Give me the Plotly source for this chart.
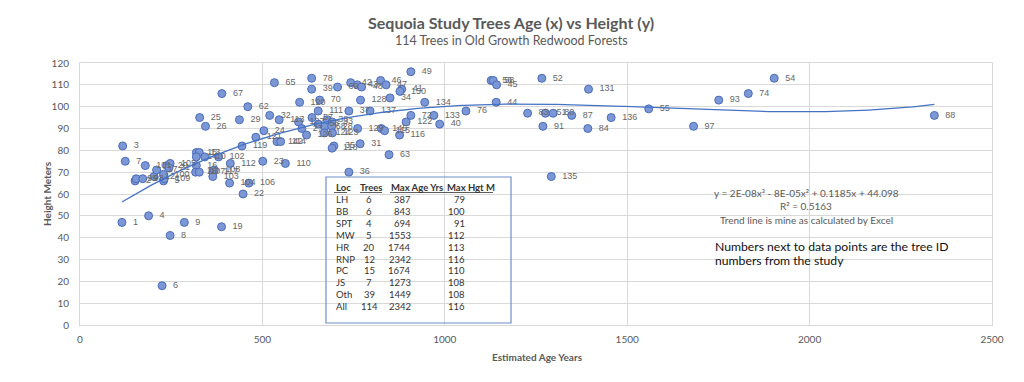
import numpy as np
import plotly.graph_objects as go

# ---------------- data ----------------
ages = [115, 188, 286, 247, 225, 117, 124, 388, 447, 410, 463,
        151, 154, 172, 203, 229, 231, 229, 179, 210, 238, 247, 244,
        319, 327, 319, 342, 380, 412, 319, 317, 327, 364, 368, 364,
        444, 482, 504, 540, 550, 501, 563, 389, 460, 328, 344, 437, 520, 546, 533,
        635, 635, 706, 742, 760, 772, 824, 839, 882, 877, 907, 850, 769, 657, 602,
        737, 795, 653, 599, 608, 621, 636, 653, 671, 678, 691, 690, 670, 692,
        761, 826, 835, 876, 894, 907, 970, 986, 945, 1058, 696, 691, 768, 847, 737,
        1127, 1133, 1142, 1266, 1394, 1141, 1227, 1276, 1297, 1348, 1269, 1392,
        1456, 1559, 1292, 1682, 1751, 1832, 1903, 2342]
heights = [47, 50, 47, 41, 18, 82, 75, 45, 60, 65, 65,
           66, 67, 67, 68, 66, 67, 69, 73, 71, 73, 74, 72,
           79, 79, 77, 77, 77, 74, 73, 70, 70, 70, 71, 68,
           82, 86, 89, 84, 84, 75, 74, 106, 100, 95, 91, 94, 96, 94, 111,
           113, 108, 109, 111, 110, 109, 112, 110, 108, 107, 116, 104, 103, 103, 102,
           98, 98, 98, 93, 90, 87, 95, 92, 91, 94, 93, 91, 88, 88,
           90, 90, 89, 87, 93, 96, 96, 92, 102, 98, 82, 81, 83, 78, 70,
           112, 112, 110, 113, 108, 102, 97, 97, 97, 96, 91, 90,
           95, 99, 68, 91, 103, 106, 113, 96]
tree_ids = ["1", "4", "9", "8", "6", "3", "7", "19", "22", "104", "106",
            "2", "99", "98", "12", "5", "109", "100", "101", "17", "20", "105", "21",
            "15", "13", "14", "10", "102", "112", "16", "18", "107", "117", "108", "103",
            "119", "121", "24", "142", "114", "23", "110", "67", "62", "25", "26", "29", "32", "113", "65",
            "78", "39", "69", "42", "43", "48", "46", "47", "41", "150", "49", "34", "128", "70", "120",
            "37", "137", "111", "127", "27", "126", "57", "53", "68", "38", "33", "28", "124", "123",
            "129", "145", "115", "116", "122", "72", "133", "40", "134", "76", "35", "118", "31", "63", "36",
            "56", "58", "45", "52", "131", "44", "83", "51", "80", "87", "91", "84",
            "136", "55", "135", "97", "93", "74", "54", "88"]

x_ticks = [0, 500, 1000, 1500, 2000, 2500]
y_ticks = [0, 10, 20, 30, 40, 50, 60, 70, 80, 90, 100, 110, 120]

table_loc = ["LH", "BB", "SPT", "MW", "HR", "RNP", "PC", "JS", "Oth", "All"]
table_trees = [6, 6, 4, 5, 20, 12, 15, 7, 39, 114]
table_max_age = [387, 843, 694, 1553, 1744, 2342, 1674, 1273, 1449, 2342]
table_max_hgt = [79, 100, 91, 112, 113, 116, 110, 108, 108, 116]
table_headers = ["Loc", "Trees", "Max Age Yrs", "Max Hgt M"]

title = "Sequoia Study Trees Age (x) vs Height (y)"
subtitle = "114 Trees in Old Growth Redwood Forests"
eq_lines = ["y = 2E-08x³ - 8E-05x² + 0.1185x + 44.098", "R² = 0.5163",
            "Trend line is mine as calculated by Excel"]
note_lines = ["Numbers next to data points are the tree ID", "numbers from the study"]

# ---------------- layout helpers ----------------
W, H = 1024, 382
L, R, T, B = 80, 32, 63, 57
PW, PH = W - L - R, H - T - B


def px(x):
    return (x - L) / PW


def py(y):
    return (H - B - y) / PH


GRID = "#D9D9D9"
GRAY = "#595959"
CAL = "Lato, Open Sans, sans-serif"

# trend line: cubic least-squares fit of the data (as Excel does)
coef = np.polyfit(ages, heights, 3)
xs = np.linspace(min(ages), max(ages), 300)
ys = np.polyval(coef, xs)

fig = go.Figure()
fig.add_trace(go.Scatter(
    x=ages, y=heights, mode="markers+text", text=tree_ids,
    texttemplate="  %{text}",
    textposition="middle right",
    textfont=dict(family="Liberation Sans, Arial, sans-serif", size=9, color="#666666"),
    marker=dict(size=8, color="#7C97D6", line=dict(color="#4A6DB9", width=1)),
    hoverinfo="x+y+text", showlegend=False, cliponaxis=False))
fig.add_trace(go.Scatter(
    x=xs, y=ys, mode="lines", line=dict(color="#4472C4", width=1.3),
    hoverinfo="skip", showlegend=False))

ann = []
ann.append(dict(text="<b>" + title + "</b>", x=px(511), y=py(22), xref="paper", yref="paper",
                showarrow=False, font=dict(family=CAL, size=16, color=GRAY), xanchor="center", yanchor="middle"))
ann.append(dict(text=subtitle, x=px(511), y=py(40), xref="paper", yref="paper",
                showarrow=False, font=dict(family=CAL, size=12.5, color=GRAY), xanchor="center", yanchor="middle"))
ann.append(dict(text="<b>Height Meters</b>", x=px(47), y=py(194), xref="paper", yref="paper", textangle=-90,
                showarrow=False, font=dict(family=CAL, size=10, color=GRAY), xanchor="center", yanchor="middle"))
ann.append(dict(text="<b>Estimated Age Years</b>", x=px(537), y=py(357), xref="paper", yref="paper",
                showarrow=False, font=dict(family=CAL, size=10, color=GRAY), xanchor="center", yanchor="middle"))
for i, line in enumerate(eq_lines):
    ann.append(dict(text=line, x=px(806), y=py(193 + 13.5 * i), xref="paper", yref="paper",
                    showarrow=False, font=dict(family=CAL, size=10, color=GRAY), xanchor="center", yanchor="middle"))
for i, line in enumerate(note_lines):
    ann.append(dict(text=line, x=px(713), y=py(246 + 14.5 * i), xref="paper", yref="paper",
                    showarrow=False, font=dict(family=CAL, size=12.2, color="#111111"), xanchor="left", yanchor="middle"))

# table
TC = "#333333"
hdr_x = [(334, "left"), (371, "center"), (417, "center"), (471, "center")]
for (hx, anc), h in zip(hdr_x, table_headers):
    ann.append(dict(text="<b>" + h + "</b>", x=px(hx), y=py(187), xref="paper", yref="paper",
                    showarrow=False, font=dict(family=CAL, size=9.5, color=TC), xanchor=anc, yanchor="middle"))
for i in range(len(table_loc)):
    yy = py(200 + 11.8 * i)
    ann.append(dict(text=table_loc[i], x=px(334), y=yy, xref="paper", yref="paper", showarrow=False,
                    font=dict(family=CAL, size=9.5, color=TC), xanchor="left", yanchor="middle"))
    ann.append(dict(text=str(table_trees[i]), x=px(369), y=yy, xref="paper", yref="paper", showarrow=False,
                    font=dict(family=CAL, size=9.5, color=TC), xanchor="center", yanchor="middle"))
    ann.append(dict(text=str(table_max_age[i]), x=px(413), y=yy, xref="paper", yref="paper", showarrow=False,
                    font=dict(family=CAL, size=9.5, color=TC), xanchor="right", yanchor="middle"))
    ann.append(dict(text=str(table_max_hgt[i]), x=px(467), y=yy, xref="paper", yref="paper", showarrow=False,
                    font=dict(family=CAL, size=9.5, color=TC), xanchor="right", yanchor="middle"))

shapes = [
    dict(type="rect", xref="paper", yref="paper", x0=px(326), x1=px(511), y0=py(177), y1=py(323),
         line=dict(color="#6F8FCB", width=1.2), fillcolor="rgba(0,0,0,0)"),
]
for (a, b) in [(334, 347), (360, 382), (390, 493)]:
    shapes.append(dict(type="line", xref="paper", yref="paper", x0=px(a), x1=px(b), y0=py(192.5), y1=py(192.5),
                       line=dict(color=TC, width=0.8)))

fig.update_layout(
    width=W, height=H, margin=dict(l=L, r=R, t=T, b=B),
    paper_bgcolor="white", plot_bgcolor="white",
    annotations=ann, shapes=shapes,
    xaxis=dict(range=[0, 2500], tickvals=x_ticks, showgrid=True, gridcolor=GRID, gridwidth=1,
               zeroline=False, showline=True, linecolor=GRID, mirror=True, ticklabelstandoff=5,
               tickfont=dict(family=CAL, size=10, color=GRAY)),
    yaxis=dict(range=[0, 120], tickvals=y_ticks, showgrid=True, gridcolor=GRID, gridwidth=1,
               zeroline=False, showline=True, linecolor=GRID, mirror=True, ticklabelstandoff=8,
               tickfont=dict(family=CAL, size=10, color=GRAY)),
)

fig.write_html("out.html", config={"displayModeBar": False},
               post_script="document.body.style.margin='0';document.body.style.overflow='hidden';")
